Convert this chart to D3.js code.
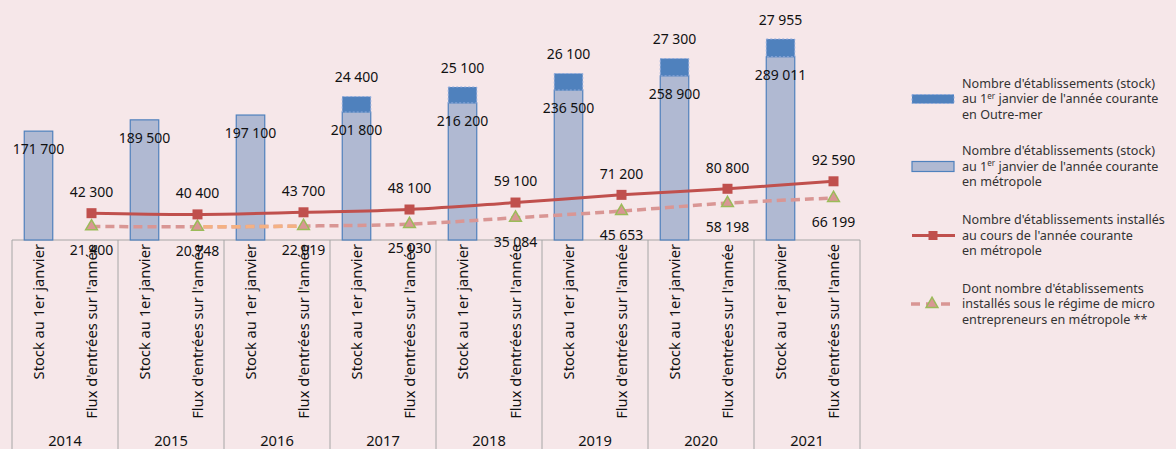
<!DOCTYPE html>
<html><head><meta charset="utf-8">
<script src="https://cdn.jsdelivr.net/npm/d3@7"></script>
<style>
html,body{margin:0;padding:0;background:#F6E7E9;}
svg{display:block;}
text{font-family:"Noto Sans","Open Sans",sans-serif;}
</style></head>
<body>
<svg id="c" width="1176" height="449"></svg>
<script>
const years = ["2014","2015","2016","2017","2018","2019","2020","2021"];
const subCats = ["Stock au 1er janvier", "Flux d'entrées sur l'année"];
const stockMetro = [171700,189500,197100,201800,216200,236500,258900,289011];
const stockOM = [null,null,null,24400,25100,26100,27300,27955];
const fluxTotal = [42300,40400,43700,48100,59100,71200,80800,92590];
const fluxMicro = [21400,20748,22019,25030,35084,45653,58198,66199];
const legendItems = [
  {type:"om", lines:[["Nombre d'établissements (stock)"],["au 1","er"," janvier de l'année courante"],["en Outre-mer"]]},
  {type:"metro", lines:[["Nombre d'établissements (stock)"],["au 1","er"," janvier de l'année courante"],["en métropole"]]},
  {type:"flux", lines:[["Nombre d'établissements installés"],["au cours de l'année courante"],["en métropole"]]},
  {type:"micro", lines:[["Dont nombre d'établissements"],["installés sous le régime de micro"],["entrepreneurs en métropole **"]]}
];

const fmt = v => d3.format(",")(v).replace(/,/g, " ");
const svg = d3.select("#c");
const C = {metro:"#B0B9D2", metroStroke:"#4F81BD", om:"#4F81BD", omStroke:"#8FAADC",
  red:"#C0504D", pink:"#D99694", orange:"#F4B183", triStroke:"#9BBB59", grid:"#A6A6A6"};

const x = d3.scaleBand().domain(years).range([12, 860]).paddingInner(0).paddingOuter(0);
const xs = d3.scaleBand().domain(subCats).range([0, x.bandwidth()]);
const y = d3.scaleLinear().domain([0, 350000]).range([240, 18.1]);
const barW = 28.5;
const cxStock = yr => x(yr) + xs(subCats[0]) + xs.bandwidth()/2;
const cxFlux = yr => x(yr) + xs(subCats[1]) + xs.bandwidth()/2;

// axis frame
const ax = svg.append("g");
ax.append("line").attr("x1", x.range()[0]).attr("x2", x.range()[1]).attr("y1", y(0)).attr("y2", y(0))
  .attr("stroke", C.grid).attr("stroke-width", 1);
const bounds = years.map(yr => x(yr)).concat([x.range()[1]]);
ax.selectAll("line.sep").data(bounds).join("line").attr("class","sep")
  .attr("x1", d => d).attr("x2", d => d).attr("y1", y(0)).attr("y2", 449)
  .attr("stroke", C.grid).attr("stroke-width", 1);

// bars
const bars = svg.append("g");
years.forEach((yr, i) => {
  const cx = cxStock(yr);
  bars.append("rect").attr("x", cx - barW/2).attr("y", y(stockMetro[i]))
    .attr("width", barW).attr("height", y(0) - y(stockMetro[i]))
    .attr("fill", C.metro).attr("stroke", C.metroStroke).attr("stroke-width", 1.2);
  if (stockOM[i] != null) {
    const top = y(stockMetro[i] + stockOM[i]);
    bars.append("rect").attr("x", cx - barW/2).attr("y", top)
      .attr("width", barW).attr("height", y(stockMetro[i]) - top)
      .attr("fill", C.om).attr("stroke", C.omStroke).attr("stroke-width", 1).attr("stroke-dasharray", "2,2");
  }
});

// lines
const ptsF = years.map((yr, i) => [cxFlux(yr), y(fluxTotal[i])]);
const ptsM = years.map((yr, i) => [cxFlux(yr), y(fluxMicro[i])]);
const lineGen = d3.line().curve(d3.curveCatmullRom.alpha(0.5));
svg.append("defs").append("clipPath").attr("id","seg").append("rect")
  .attr("x", cxFlux("2015")).attr("y", 0).attr("width", cxFlux("2016") - cxFlux("2015")).attr("height", 449);
svg.append("path").attr("d", lineGen(ptsM)).attr("fill","none").attr("stroke", C.pink)
  .attr("stroke-width", 3.5).attr("stroke-dasharray", "9,5");
svg.append("path").attr("d", lineGen(ptsM)).attr("fill","none").attr("stroke", C.orange)
  .attr("stroke-width", 3.5).attr("stroke-dasharray", "9,5").attr("clip-path","url(#seg)");
svg.append("path").attr("d", lineGen(ptsF)).attr("fill","none").attr("stroke", C.red).attr("stroke-width", 3);

const tri = d3.symbol().type(d3.symbolTriangle).size(60);
svg.selectAll("path.tri").data(ptsM).join("path").attr("class","tri")
  .attr("d", tri).attr("transform", d => `translate(${d[0]},${d[1]})`)
  .attr("fill", C.pink).attr("stroke", C.triStroke).attr("stroke-width", 1.5);
svg.selectAll("rect.sq").data(ptsF).join("rect").attr("class","sq")
  .attr("x", d => d[0]-5).attr("y", d => d[1]-5).attr("width", 10).attr("height", 10)
  .attr("fill", C.red);

// data labels
const lab = svg.append("g").attr("font-size", 14).attr("fill", "#111").attr("text-anchor","middle");
years.forEach((yr, i) => {
  const cx = cxStock(yr);
  lab.append("text").attr("x", cx).attr("y", y(stockMetro[i]) + 18).attr("dy","0.35em").text(fmt(stockMetro[i]));
  if (stockOM[i] != null)
    lab.append("text").attr("x", cx).attr("y", y(stockMetro[i] + stockOM[i]) - 19).attr("dy","0.35em").text(fmt(stockOM[i]));
  const fx = cxFlux(yr);
  lab.append("text").attr("x", fx).attr("y", y(fluxTotal[i]) - 21).attr("dy","0.35em").text(fmt(fluxTotal[i]));
  lab.append("text").attr("x", fx).attr("y", y(fluxMicro[i]) + 24).attr("dy","0.35em").text(fmt(fluxMicro[i]));
});

// category labels
const cat = svg.append("g").attr("font-size", 14.7).attr("fill", "#111");
years.forEach(yr => {
  subCats.forEach(sc => {
    const cx = x(yr) + xs(sc) + xs.bandwidth()/2;
    cat.append("text").attr("transform", `translate(${cx},244) rotate(-90)`)
      .attr("text-anchor","end").attr("dy","0.35em").text(sc);
  });
  cat.append("text").attr("x", x(yr) + x.bandwidth()/2).attr("y", 445.5)
    .attr("text-anchor","middle").text(yr);
});

// legend
const lg = svg.append("g").attr("font-size", 12.6).attr("fill", "#333");
const legendY = [83.5, 151, 220, 288.5];
legendItems.forEach((it, k) => {
  const y0 = legendY[k];
  const sy = y0 + 15.5;
  const g = lg.append("g");
  if (it.type === "om") {
    g.append("rect").attr("x", 912).attr("y", sy - 4.5).attr("width", 42).attr("height", 9)
      .attr("fill", C.om).attr("stroke", C.omStroke).attr("stroke-dasharray","2,2");
  } else if (it.type === "metro") {
    g.append("rect").attr("x", 912).attr("y", sy - 5).attr("width", 42).attr("height", 10)
      .attr("fill", C.metro).attr("stroke", C.metroStroke).attr("stroke-width", 1.2);
  } else if (it.type === "flux") {
    g.append("line").attr("x1", 912).attr("x2", 955).attr("y1", sy).attr("y2", sy).attr("stroke", C.red).attr("stroke-width", 3);
    g.append("rect").attr("x", 928.5).attr("y", sy-4.5).attr("width", 9).attr("height", 9).attr("fill", C.red);
  } else {
    g.append("line").attr("x1", 911).attr("x2", 955).attr("y1", sy).attr("y2", sy).attr("stroke", C.pink)
      .attr("stroke-width", 3.5).attr("stroke-dasharray", "9,6");
    g.append("path").attr("d", tri).attr("transform", `translate(932,${sy})`)
      .attr("fill", C.pink).attr("stroke", C.triStroke).attr("stroke-width", 1.5);
  }
  it.lines.forEach((ln, j) => {
    const t = g.append("text").attr("x", 962).attr("y", y0 + j*15.5).attr("dy","0.35em");
    if (ln.length === 1) t.text(ln[0]);
    else {
      t.append("tspan").text(ln[0]);
      t.append("tspan").attr("font-size", 8).attr("dy", "-0.6em").text(ln[1]);
      t.append("tspan").attr("dy", "0.35em").attr("dx", 0).text(ln[2]);
    }
  });
});
</script>
</body></html>
